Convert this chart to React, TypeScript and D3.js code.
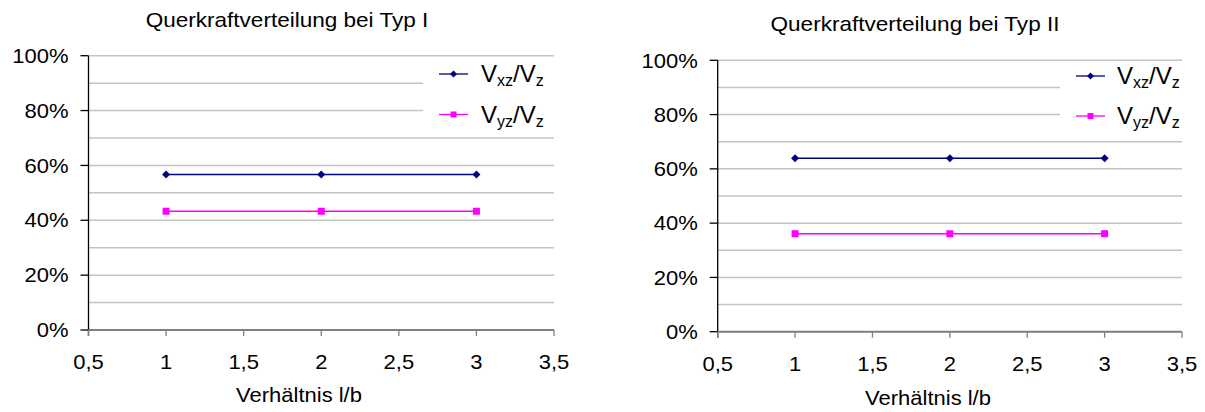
import React from "react";
import * as d3 from "d3";

// ---- data ----
const ratioValues = [1, 2, 3];
const typeIVxz = [0.567, 0.567, 0.567];
const typeIVyz = [0.433, 0.433, 0.433];
const typeIIVxz = [0.639, 0.639, 0.639];
const typeIIVyz = [0.361, 0.361, 0.361];
const xTickValues = [0.5, 1, 1.5, 2, 2.5, 3, 3.5];
const yTickValues = [0, 0.2, 0.4, 0.6, 0.8, 1.0];
const gridValues = [0, 0.1, 0.2, 0.3, 0.4, 0.5, 0.6, 0.7, 0.8, 0.9, 1.0];
const chartTitles = ["Querkraftverteilung bei Typ I", "Querkraftverteilung bei Typ II"];
const xAxisTitle = "Verhältnis l/b";
const seriesNames = [
  { main: "V", sub: "xz" },
  { main: "V", sub: "yz" },
];

const FONT = "'Liberation Sans', Arial, sans-serif";
const SX = 1.1;
const NAVY = "#000080";
const PINK = "#ff00ff";

type Layout = {
  left: number; right: number; top: number; bottom: number;
  titleX: number; titleY: number;
  xLabelY: number; axisTitleX: number; axisTitleY: number;
  legendLineX0: number; legendLineX1: number; legendTextX: number;
  legendY0: number; legendY1: number; gridCut: number;
};

const layouts: Layout[] = [
  {
    left: 88.5, right: 554, top: 55.7, bottom: 330,
    titleX: 287, titleY: 27, xLabelY: 368.5, axisTitleX: 299, axisTitleY: 402,
    legendLineX0: 439, legendLineX1: 468, legendTextX: 481,
    legendY0: 74, legendY1: 114.5, gridCut: 423,
  },
  {
    left: 717.7, right: 1182, top: 60.3, bottom: 331.7,
    titleX: 915, titleY: 30.5, xLabelY: 370.5, axisTitleX: 928, axisTitleY: 405,
    legendLineX0: 1076, legendLineX1: 1105, legendTextX: 1117,
    legendY0: 76, legendY1: 116, gridCut: 1060,
  },
];

const fmtX = (v: number) => d3.format("")(v).replace(".", ",");
const fmtY = d3.format(".0%");

function SText(props: { x: number; y: number; anchor?: string; size: number; children: React.ReactNode; sx?: number }) {
  const { x, y, anchor = "start", size, children, sx = SX } = props;
  return (
    <text
      transform={`translate(${x},${y}) scale(${sx},1)`}
      textAnchor={anchor}
      fontFamily={FONT}
      fontSize={size}
      fill="#000"
    >
      {children}
    </text>
  );
}

function Diamond({ cx, cy, r, fill }: { cx: number; cy: number; r: number; fill: string }) {
  return <path d={`M${cx},${cy - r}L${cx + r},${cy}L${cx},${cy + r}L${cx - r},${cy}Z`} fill={fill} />;
}

function LegendLabel({ x, y, main, sub }: { x: number; y: number; main: string; sub: string }) {
  return (
    <text transform={`translate(${x},${y}) scale(1.0,1)`} fontFamily={FONT} fontSize={24} fill="#000">
      <tspan>{main}</tspan>
      <tspan fontSize={16} dy={4}>{sub}</tspan>
      <tspan dy={-4}>/{main}</tspan>
      <tspan fontSize={16} dy={4}>z</tspan>
    </text>
  );
}

function Chart({ idx, vxz, vyz }: { idx: number; vxz: number[]; vyz: number[] }) {
  const L = layouts[idx];
  const x = d3.scaleLinear().domain([0.5, 3.5]).range([L.left, L.right]);
  const y = d3.scaleLinear().domain([0, 1]).range([L.bottom, L.top]);
  const line = d3.line<number>().x((_, i) => x(ratioValues[i])).y((d) => y(d));
  const legendTopY = y(0.97);
  const legendBotY = y(0.72);

  return (
    <g>
      <SText x={L.titleX} y={L.titleY} anchor="middle" size={20.5}>{chartTitles[idx]}</SText>
      {gridValues.map((g) => (
        <line key={g} x1={L.left} x2={L.right} y1={y(g)} y2={y(g)} stroke="#c4c4c4" strokeWidth={1.5} />
      ))}
      <rect x={L.gridCut} y={legendTopY} width={L.right - L.gridCut + 2} height={legendBotY - legendTopY} fill="#fff" />
      <line x1={L.left} x2={L.left} y1={L.top} y2={L.bottom + 6} stroke="#000" strokeWidth={1.3} />
      {yTickValues.map((t) => (
        <g key={t}>
          <line x1={L.left - 8} x2={L.left} y1={y(t)} y2={y(t)} stroke="#000" strokeWidth={1.3} />
          <SText x={L.left - 20} y={y(t) + 7.2} anchor="end" size={20}>{fmtY(t)}</SText>
        </g>
      ))}
      <line x1={L.left} x2={L.right} y1={L.bottom} y2={L.bottom} stroke="#808080" strokeWidth={2} />
      {xTickValues.map((t) => (
        <g key={t}>
          <line x1={x(t)} x2={x(t)} y1={L.bottom} y2={L.bottom + 6} stroke="#808080" strokeWidth={1.3} />
          <SText x={x(t)} y={L.xLabelY} anchor="middle" size={20}>{fmtX(t)}</SText>
        </g>
      ))}
      <SText x={L.axisTitleX} y={L.axisTitleY} anchor="middle" size={20}>{xAxisTitle}</SText>
      <path d={line(vxz) || ""} fill="none" stroke={NAVY} strokeWidth={1.6} />
      {vxz.map((v, i) => (
        <Diamond key={i} cx={x(ratioValues[i])} cy={y(v)} r={4} fill={NAVY} />
      ))}
      <path d={line(vyz) || ""} fill="none" stroke={PINK} strokeWidth={1.6} />
      {vyz.map((v, i) => (
        <rect key={i} x={x(ratioValues[i]) - 3.5} y={y(v) - 3.5} width={7} height={7} fill={PINK} />
      ))}
      <line x1={L.legendLineX0} x2={L.legendLineX1} y1={L.legendY0} y2={L.legendY0} stroke={NAVY} strokeWidth={1.3} />
      <Diamond cx={(L.legendLineX0 + L.legendLineX1) / 2} cy={L.legendY0} r={3.5} fill={NAVY} />
      <LegendLabel x={L.legendTextX} y={L.legendY0 + 8} main={seriesNames[0].main} sub={seriesNames[0].sub} />
      <line x1={L.legendLineX0} x2={L.legendLineX1} y1={L.legendY1} y2={L.legendY1} stroke={PINK} strokeWidth={1.3} />
      <rect x={(L.legendLineX0 + L.legendLineX1) / 2 - 3} y={L.legendY1 - 3} width={6} height={6} fill={PINK} />
      <LegendLabel x={L.legendTextX} y={L.legendY1 + 8} main={seriesNames[1].main} sub={seriesNames[1].sub} />
    </g>
  );
}

export default function App() {
  return (
    <svg
      width={1205}
      height={412}
      style={{ position: "absolute", left: 0, top: 0, background: "#fff" }}
    >
      <rect x={0} y={0} width={1205} height={412} fill="#fff" />
      <Chart idx={0} vxz={typeIVxz} vyz={typeIVyz} />
      <Chart idx={1} vxz={typeIIVxz} vyz={typeIIVyz} />
    </svg>
  );
}
